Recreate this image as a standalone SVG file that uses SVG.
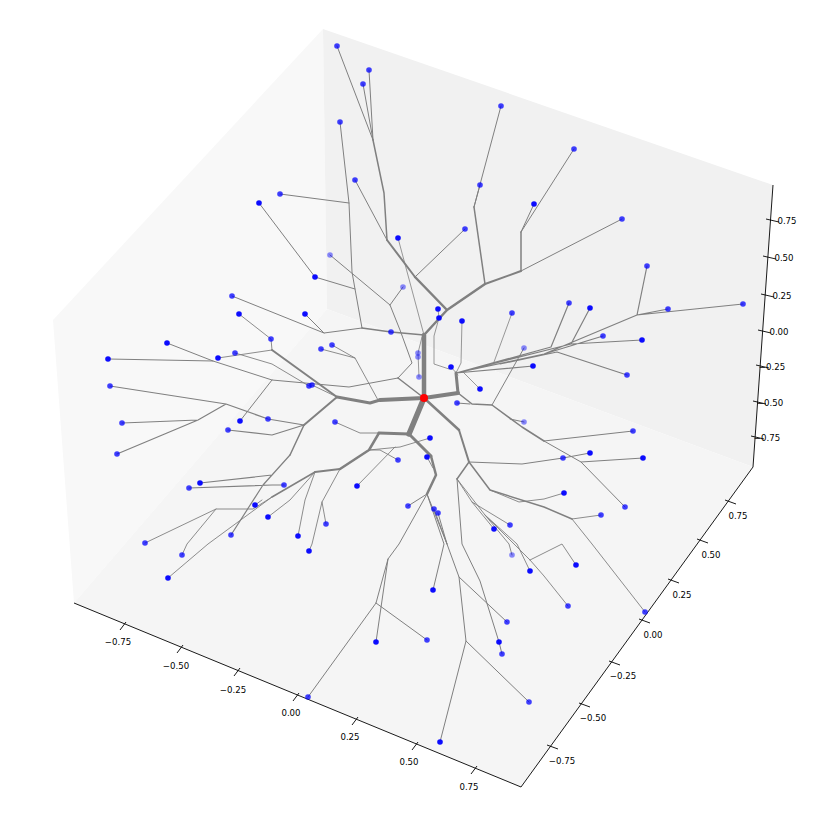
<svg xmlns="http://www.w3.org/2000/svg" width="817" height="817" viewBox="0 0 817 817">
<style>
.e{fill:none;stroke:#808080;stroke-linecap:round;stroke-linejoin:round}
.n{fill:#0000ff;stroke:none}
.tk{stroke:#000;stroke-width:0.9;fill:none}
.lb{font-family:"DejaVu Sans",sans-serif;font-size:8.6px;fill:#000;text-anchor:middle}
</style>
<rect width="817" height="817" fill="#fff"/>
<g id="panes">
<polygon points="323,29 53,320 74,603 327,309" fill="#f8f8f8"/>
<polygon points="323,29 773,185 753,467 327,309" fill="#f1f1f1"/>
<polygon points="327,309 753,467 521,787 74,603" fill="#f5f5f5"/>
</g>
<g id="axes">
<line class="tk" x1="74" y1="603" x2="521" y2="787"/>
<line class="tk" x1="521" y1="787" x2="753" y2="467"/>
<line class="tk" x1="753" y1="467" x2="773" y2="185"/>
<path class="tk" d="M120,630L126,622M177,653L183,645M234,676L240,668M293,701L299,693M352,725L358,717M412,750L418,742M471,774L477,766"/>
<path class="tk" d="M725,500L736,504M697,539L708,543M668,579L679,583M639,619L650,623M609,661L620,665M579,703L590,707M547,745L558,749"/>
<path class="tk" d="M766,219L779,222M763,256L776,259M761,294L774,297M758,330L771,333M756,365L769,368M753,401L766,404M751,436L764,439"/>
<text class="lb" x="118" y="645">−0.75</text>
<text class="lb" x="176" y="669">−0.50</text>
<text class="lb" x="233" y="693">−0.25</text>
<text class="lb" x="291" y="716">0.00</text>
<text class="lb" x="350" y="740">0.25</text>
<text class="lb" x="409" y="765">0.50</text>
<text class="lb" x="469" y="790">0.75</text>
<text class="lb" x="738" y="519">0.75</text>
<text class="lb" x="711" y="558">0.50</text>
<text class="lb" x="682" y="598">0.25</text>
<text class="lb" x="653" y="638">0.00</text>
<text class="lb" x="623" y="679">−0.25</text>
<text class="lb" x="593" y="721">−0.50</text>
<text class="lb" x="562" y="764">−0.75</text>
<text class="lb" x="787" y="224">0.75</text>
<text class="lb" x="784" y="261">0.50</text>
<text class="lb" x="782" y="299">0.25</text>
<text class="lb" x="779" y="335">0.00</text>
<text class="lb" x="772" y="370">−0.25</text>
<text class="lb" x="770" y="406">−0.50</text>
<text class="lb" x="767" y="441">−0.75</text>
</g>
<g id="connectors">
<path class="e" stroke-width="5.5" d="M424,398L409,434"/>
<path class="e" stroke-width="4.5" d="M424,398L424,335"/>
<path class="e" stroke-width="4" d="M424,398L458,393M424,398L380,400"/>
<path class="e" stroke-width="3" d="M458,393L456,373M380,400L370,403L337,397M409,434L379,433M409,434L431,456"/>
<path class="e" stroke-width="2.5" d="M424,335L447,310L485,284M447,310L415,277M379,433L369,450L340,469M431,456L436,475L427,494M424,398L459,430"/>
<path class="e" stroke-width="2" d="M459,430L469,462M337,397L272,350M337,397L304,425M415,277L387,240M485,284L521,271M340,469L315,472"/>
<path class="e" stroke-width="1.5" d="M521,271L521,232M485,284L474,207M387,240L384,193L373,140M424,335L391,332L362,328M424,398L398,378M458,393L472,404L492,405L522,427L544,441M469,462L457,479M315,472L272,497M304,425L290,455M469,462L490,490L544,507L572,519"/>
<path class="e" stroke-width="1" d="M521,232L534,204M521,232L574,149M521,271L622,219M474,207L480,185M474,207L501,106M415,277L465,229M387,240L355,180M373,140L337,46M373,140L369,70M373,140L363,84M362,328L355,289L352,272L349,203L340,122M349,203L280,194M355,289L315,277L259,203M362,328L324,333L232,296M324,333L305,314M398,378L412,363L400,330L390,305L330,255M390,305L403,287M398,378L349,387L272,380L213,361L167,343M213,361L108,359M272,380L240,421"/>
<path class="e" stroke-width="0.8" d="M424,335L398,238M419,377L418,353L422,337M449,369L434,364L434,336L439,318L438,309M462,321L461,363L456,373M512,313L494,362M451,367L458,375M480,389L463,372"/>
<path class="e" stroke-width="1.2" d="M456,373L544,354L637,315L647,266M637,315L668,309M637,315L743,304M456,373L551,347L569,303M456,373L571,344L590,308M571,344L642,340M456,373L533,366M603,336L544,354M627,375L557,352L500,364"/>
<path class="e" stroke-width="1" d="M524,348L492,405M544,441L633,431M544,441L581,462L643,458M581,462L625,507M524,422L510,419M457,403L470,404M469,462L522,464L563,458L590,453"/>
<path class="e" stroke-width="1.2" d="M304,425L268,419L226,404L110,386M226,404L198,420L122,423M198,420L117,454M290,455L272,475L200,483M290,455L263,485L231,535M284,485L272,485L189,488M272,435L228,430M304,425L272,435"/>
<path class="e" stroke-width="0.9" d="M272,350L271,339L239,314M272,350L218,358M235,353L272,364L309,386M312,385L337,397M332,345L355,358L378,400M321,349L355,358M335,422L360,433L379,433M430,438L400,447L369,450M427,457L433,468M398,460L380,450L369,450M357,486L395,447M272,497L253,509L216,509L145,543M216,509L187,544L182,555M272,497L208,544L168,578M255,505L262,500M268,517L290,500L315,472M340,469L322,502L312,544L309,551M326,524L322,502M298,536L305,500L315,472"/>
<path class="e" stroke-width="0.9" d="M572,519L601,515M572,519L592,544L645,612M490,490L519,502L544,499L564,493M457,479L472,502L494,529M472,502L510,525M457,479L485,515L530,560L544,576L568,606M530,560L562,544L576,565M485,515L517,544L530,571M485,515L509,544L512,555"/>
<path class="e" stroke-width="1" d="M457,479L462,544L480,581L499,642L502,654M427,494L399,544L388,559L376,603L308,697M376,603L427,640M388,559L376,642M427,494L447,544L459,577L466,641L440,742M466,641L529,702M459,577L507,622M427,494L444,544L433,590M427,494L408,506M447,544L434,509M447,544L438,513"/>
</g>
<g id="nodes">
<g class="n" fill-opacity="0.75">
<circle cx="337" cy="46" r="2.8"/><circle cx="369" cy="70" r="2.8"/><circle cx="363" cy="84" r="2.8"/><circle cx="501" cy="106" r="2.8"/><circle cx="340" cy="122" r="2.8"/><circle cx="574" cy="149" r="2.8"/><circle cx="355" cy="180" r="2.8"/><circle cx="480" cy="185" r="2.8"/><circle cx="280" cy="194" r="2.8"/><circle cx="622" cy="219" r="2.8"/><circle cx="465" cy="229" r="2.8"/><circle cx="647" cy="266" r="2.8"/><circle cx="232" cy="296" r="2.8"/><circle cx="569" cy="303" r="2.8"/><circle cx="668" cy="309" r="2.8"/><circle cx="743" cy="304" r="2.8"/><circle cx="512" cy="313" r="2.8"/><circle cx="391" cy="332" r="2.8"/><circle cx="271" cy="339" r="2.8"/><circle cx="332" cy="345" r="2.8"/><circle cx="321" cy="349" r="2.8"/><circle cx="603" cy="336" r="2.8"/><circle cx="235" cy="353" r="2.8"/><circle cx="627" cy="375" r="2.8"/><circle cx="309" cy="386" r="2.8"/><circle cx="312" cy="385" r="2.8"/><circle cx="110" cy="386" r="2.8"/><circle cx="457" cy="403" r="2.8"/><circle cx="268" cy="419" r="2.8"/><circle cx="122" cy="423" r="2.8"/><circle cx="228" cy="430" r="2.8"/><circle cx="335" cy="422" r="2.8"/><circle cx="633" cy="431" r="2.8"/><circle cx="117" cy="454" r="2.8"/><circle cx="398" cy="460" r="2.8"/><circle cx="563" cy="458" r="2.8"/><circle cx="189" cy="488" r="2.8"/><circle cx="284" cy="485" r="2.8"/><circle cx="231" cy="535" r="2.8"/><circle cx="145" cy="543" r="2.8"/><circle cx="326" cy="524" r="2.8"/><circle cx="408" cy="506" r="2.8"/><circle cx="434" cy="509" r="2.8"/><circle cx="438" cy="513" r="2.8"/><circle cx="510" cy="525" r="2.8"/><circle cx="625" cy="507" r="2.8"/><circle cx="601" cy="515" r="2.8"/><circle cx="182" cy="555" r="2.8"/><circle cx="568" cy="606" r="2.8"/><circle cx="645" cy="612" r="2.8"/><circle cx="427" cy="640" r="2.8"/><circle cx="507" cy="622" r="2.8"/><circle cx="502" cy="654" r="2.8"/><circle cx="529" cy="702" r="2.8"/><circle cx="308" cy="697" r="2.8"/>
</g>
<g class="n" fill-opacity="0.95">
<circle cx="259" cy="203" r="2.8"/><circle cx="534" cy="204" r="2.8"/><circle cx="398" cy="238" r="2.8"/><circle cx="315" cy="277" r="2.8"/><circle cx="590" cy="308" r="2.8"/><circle cx="438" cy="309" r="2.8"/><circle cx="439" cy="318" r="2.8"/><circle cx="462" cy="321" r="2.8"/><circle cx="239" cy="314" r="2.8"/><circle cx="305" cy="314" r="2.8"/><circle cx="642" cy="340" r="2.8"/><circle cx="167" cy="343" r="2.8"/><circle cx="108" cy="359" r="2.8"/><circle cx="218" cy="358" r="2.8"/><circle cx="451" cy="367" r="2.8"/><circle cx="533" cy="366" r="2.8"/><circle cx="480" cy="389" r="2.8"/><circle cx="240" cy="421" r="2.8"/><circle cx="430" cy="438" r="2.8"/><circle cx="427" cy="457" r="2.8"/><circle cx="590" cy="453" r="2.8"/><circle cx="643" cy="458" r="2.8"/><circle cx="200" cy="483" r="2.8"/><circle cx="357" cy="486" r="2.8"/><circle cx="255" cy="505" r="2.8"/><circle cx="268" cy="517" r="2.8"/><circle cx="298" cy="536" r="2.8"/><circle cx="494" cy="529" r="2.8"/><circle cx="564" cy="493" r="2.8"/><circle cx="168" cy="578" r="2.8"/><circle cx="309" cy="551" r="2.8"/><circle cx="530" cy="571" r="2.8"/><circle cx="576" cy="565" r="2.8"/><circle cx="433" cy="590" r="2.8"/><circle cx="376" cy="642" r="2.8"/><circle cx="499" cy="642" r="2.8"/><circle cx="440" cy="742" r="2.8"/>
</g>
<g class="n" fill-opacity="0.45">
<circle cx="330" cy="255" r="2.8"/><circle cx="403" cy="287" r="2.8"/><circle cx="418" cy="353" r="2.8"/><circle cx="418" cy="357" r="2.8"/><circle cx="524" cy="348" r="2.8"/><circle cx="419" cy="377" r="2.8"/><circle cx="524" cy="422" r="2.8"/><circle cx="512" cy="555" r="2.8"/>
</g>
<circle id="root" cx="424" cy="398" r="4" fill="#ff0000"/>
</g>
</svg>
